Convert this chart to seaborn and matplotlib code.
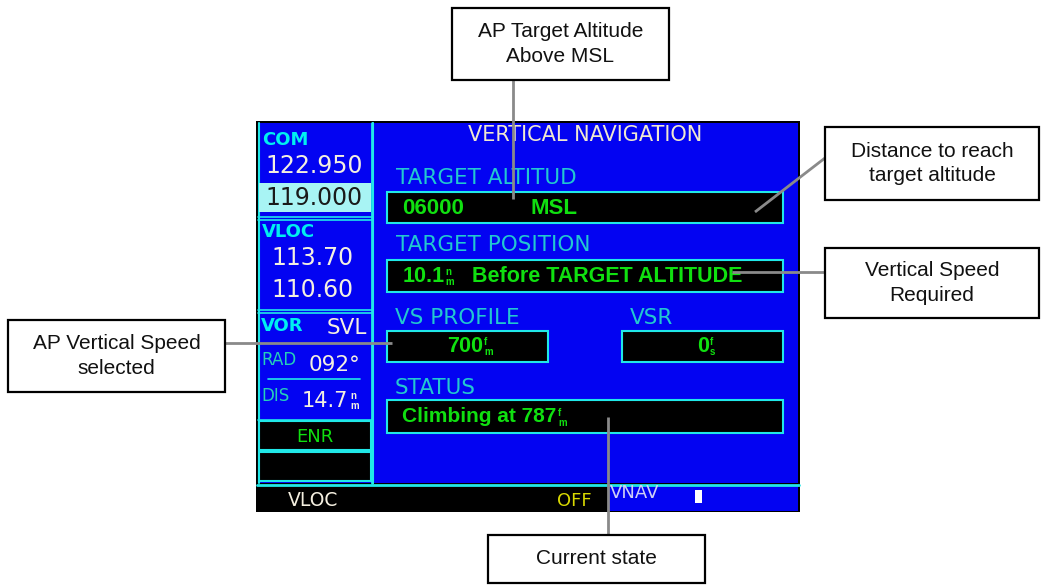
import matplotlib
matplotlib.use("Agg")
import matplotlib.pyplot as plt
import matplotlib.patches as patches
import seaborn as sns

# -----------------------------
# TEXT CONTENT
# -----------------------------
callout_texts = [
    "AP Target Altitude\nAbove MSL",
    "Distance to reach\ntarget altitude",
    "Vertical Speed\nRequired",
    "AP Vertical Speed\nselected",
    "Current state",
]
com_freqs = ["122.950", "119.000"]
vloc_freqs = ["113.70", "110.60"]
field_labels = ["TARGET ALTITUD", "TARGET POSITION", "VS PROFILE", "VSR", "STATUS"]
target_alt = ["06000", "MSL"]
target_pos = ["10.1", "Before TARGET ALTITUDE"]
vs_profile = "700"
vsr_value = "0"
status_text = "Climbing at 787"
page_title = "VERTICAL NAVIGATION"

sns.set_style("white")
plt.rcParams["font.family"] = ["DejaVu Sans"]

SCREEN = ["DejaVu Sans"]
ARIAL = ["Liberation Sans", "DejaVu Sans"]

BLUE = "#0303f2"
CYAN = "#20e8e8"
LBL = "#22c8d0"
TEAL = "#25d0b8"
GREEN = "#10e010"
WHITE = "#f4efe0"
GRAY = "#8a8a8a"

fig = plt.figure(figsize=(10.41, 5.85), dpi=100)
ax = fig.add_axes([0, 0, 1, 1])
ax.set_xlim(0, 1041)
ax.set_ylim(585, 0)
ax.axis("off")


def rect(x0, y0, x1, y1, fc, ec="none", lw=0, z=1):
    ax.add_patch(patches.Rectangle((x0, y0), x1 - x0, y1 - y0, facecolor=fc,
                                   edgecolor=ec, linewidth=lw, zorder=z))


def txt(x, y, s, color, size, ha="left", weight="normal", fam=SCREEN, z=5):
    ax.text(x, y, s, color=color, fontsize=size, ha=ha, va="center",
            fontweight=weight, family=fam, zorder=z)


def unit(x, y, top, color, bot, size=7):
    # tiny stacked unit glyphs like n/m, f/m
    ax.text(x, y - 5, top, color=color, fontsize=size, ha="left", va="center",
            fontweight="bold", family=ARIAL, zorder=5)
    ax.text(x, y + 5, bot, color=color, fontsize=size, ha="left", va="center",
            fontweight="bold", family=ARIAL, zorder=5)


# -----------------------------
# SCREEN BACKGROUND
# -----------------------------
rect(256, 121, 800, 512, "black", z=0)
rect(258, 123, 798, 483, BLUE, z=1)
# bottom bar
rect(258, 486, 608, 511, "black", z=1)
rect(608, 486, 798, 511, BLUE, z=1)
ax.plot([257, 799], [484.5, 484.5], color=CYAN, lw=2, zorder=2)

# left column borders
ax.plot([258.5, 258.5], [123, 483], color=CYAN, lw=1.5, zorder=2)
ax.plot([371.5, 371.5], [123, 483], color=CYAN, lw=2, zorder=2)
for yy in [216.5, 219.5, 309.5, 312.5, 419.5]:
    ax.plot([258, 372], [yy, yy], color=CYAN, lw=1.2, zorder=2)

# COM section
txt(262, 140, "COM", "#00f0f0", 13, weight="bold")
txt(363, 166, com_freqs[0], WHITE, 17, ha="right")
rect(259, 183, 371, 212, "#a8f4f4", z=2)
txt(363, 198, com_freqs[1], "#1a1a1a", 17, ha="right")

# VLOC section
txt(262, 232, "VLOC", "#00f0f0", 13, weight="bold")
txt(354, 258, vloc_freqs[0], WHITE, 17, ha="right")
txt(354, 290, vloc_freqs[1], WHITE, 17, ha="right")

# VOR / RAD / DIS
txt(261, 326, "VOR", "#00f0f0", 13, weight="bold")
txt(367, 328, "SVL", WHITE, 15.5, ha="right")
txt(261, 360, "RAD", TEAL, 12)
txt(309, 365, "092°", WHITE, 15.5)
ax.plot([268, 360], [379, 379], color=CYAN, lw=1.2, zorder=2)
txt(261, 396, "DIS", TEAL, 12)
txt(302, 401, "14.7", WHITE, 15)
unit(350, 401, "n", WHITE, "m", size=7)

# ENR boxes
rect(259, 421, 371, 450, "black", CYAN, 1.5, z=2)
txt(315, 437, "ENR", GREEN, 13, ha="center")
rect(259, 452, 371, 481, "black", CYAN, 1.5, z=2)

# bottom bar text
txt(313, 500, "VLOC", WHITE, 13.5, ha="center")
txt(574, 501, "OFF", "#d8d800", 13, ha="center")
txt(610, 493, "VNAV", "#cfcff5", 13)
rect(695, 490, 702, 503, "white", z=3)

# -----------------------------
# MAIN PANEL
# -----------------------------
ax.plot([373, 373], [123, 483], color=CYAN, lw=1.5, zorder=2)
txt(585, 135, page_title, "#f0e8d0", 15, ha="center")

txt(396, 178, field_labels[0], LBL, 15.5)
rect(387, 192, 783, 223, "black", CYAN, 1.5, z=2)
txt(402, 208, target_alt[0], GREEN, 16, weight="bold", fam=ARIAL)
txt(530, 208, target_alt[1], GREEN, 16, weight="bold", fam=ARIAL)

txt(396, 245, field_labels[1], LBL, 15.5)
rect(387, 260, 783, 292, "black", CYAN, 1.5, z=2)
txt(403, 276, target_pos[0], GREEN, 15.5, weight="bold", fam=ARIAL)
unit(445, 277, "n", GREEN, "m")
txt(472, 276, target_pos[1], GREEN, 15.5, weight="bold", fam=ARIAL)

txt(395, 318, field_labels[2], LBL, 15.5)
txt(630, 318, field_labels[3], LBL, 15.5)
rect(387, 331, 548, 362, "black", CYAN, 1.5, z=2)
txt(483, 346, vs_profile, GREEN, 15.5, weight="bold", ha="right", fam=ARIAL)
unit(484, 347, "f", GREEN, "m")
rect(622, 331, 783, 362, "black", CYAN, 1.5, z=2)
txt(709, 346, vsr_value, GREEN, 15.5, weight="bold", ha="right", fam=ARIAL)
unit(710, 347, "f", GREEN, "s")

txt(395, 388, field_labels[4], LBL, 15.5)
rect(387, 400, 783, 433, "black", CYAN, 1.5, z=2)
txt(402, 416, status_text, GREEN, 15, weight="bold", fam=ARIAL)
unit(558, 418, "f", GREEN, "m")

# -----------------------------
# CALLOUTS
# -----------------------------
boxes = [(452, 8, 669, 80), (825, 127, 1039, 200), (825, 248, 1039, 318),
         (8, 320, 225, 392), (488, 535, 705, 583)]
leaders = [([513, 513], [80, 199]), ([825, 755], [158, 212]),
           ([825, 732], [272, 272]), ([225, 392], [343, 343]),
           ([608, 608], [535, 417])]

for (xs, ys) in leaders:
    ax.plot(xs, ys, color=GRAY, lw=2, zorder=6, solid_capstyle="butt")

for (x0, y0, x1, y1), label in zip(boxes, callout_texts):
    rect(x0, y0, x1, y1, "white", "black", 1.6, z=7)
    ax.text((x0 + x1) / 2, (y0 + y1) / 2, label, ha="center", va="center",
            fontsize=15, color="#111111", linespacing=1.38, family=ARIAL,
            zorder=8)

fig.savefig("out.png", dpi=100)
